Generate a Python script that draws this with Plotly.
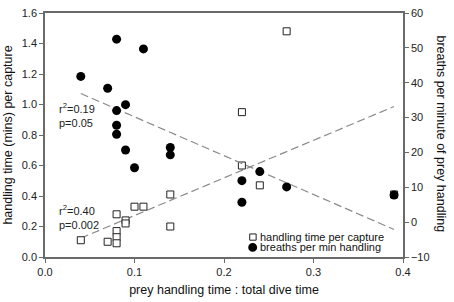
import plotly.graph_objects as go

# handling time per capture (left axis)
cap_x = [0.04, 0.07, 0.08, 0.08, 0.08, 0.08, 0.09, 0.09, 0.10, 0.11, 0.14, 0.14, 0.22, 0.22, 0.24, 0.27, 0.39]
cap_y = [0.11, 0.10, 0.28, 0.17, 0.13, 0.09, 0.24, 0.22, 0.33, 0.33, 0.41, 0.20, 0.95, 0.60, 0.47, 1.48, 0.41]

# breaths per min handling (right axis)
br_x = [0.04, 0.07, 0.08, 0.08, 0.08, 0.08, 0.09, 0.09, 0.10, 0.11, 0.14, 0.14, 0.22, 0.22, 0.24, 0.27, 0.39]
br_y = [41.8, 38.4, 52.5, 32.0, 27.8, 25.2, 33.7, 20.7, 15.6, 49.7, 21.4, 19.3, 11.9, 5.7, 14.5, 10.1, 7.8]

# regression lines
fit_x = [0.04, 0.39]
cap_fit = [0.124, 0.987]
br_fit = [36.9, -2.1]

series_names = ["handling time per capture", "breaths per min handling"]

FONT = "Liberation Sans, Arial, sans-serif"
AX = "#6a6a6a"
DASH = "#8a8a8a"

W, H = 454, 302
L, R, T, B = 41, 51, 7, 41
PW, PH = W - L - R, H - T - B

def px_x(px):
    return (px - L) / PW

def px_y(py):
    return (H - B - py) / PH

fig = go.Figure()
fig.add_trace(go.Scatter(x=fit_x, y=cap_fit, mode="lines", showlegend=False,
                         line=dict(color=DASH, width=1.2, dash="8px,4px"), hoverinfo="skip"))
fig.add_trace(go.Scatter(x=fit_x, y=br_fit, mode="lines", showlegend=False, yaxis="y2",
                         line=dict(color=DASH, width=1.2, dash="8px,4px"), hoverinfo="skip"))
fig.add_trace(go.Scatter(x=cap_x, y=cap_y, mode="markers", name=series_names[0], showlegend=False,
                         marker=dict(symbol="square", size=7, color="white",
                                     line=dict(color="#222", width=1))))
fig.add_trace(go.Scatter(x=br_x, y=br_y, mode="markers", name=series_names[1], yaxis="y2", showlegend=False,
                         marker=dict(symbol="circle", size=9, color="black",
                                     line=dict(color="black", width=0))))

# hand-made compact legend (marker swatches + labels)
shapes = [
    dict(type="rect", xref="paper", yref="paper",
         x0=px_x(248), x1=px_x(254.5), y0=px_y(243.5), y1=px_y(237),
         fillcolor="white", line=dict(color="#222", width=1)),
    dict(type="circle", xref="paper", yref="paper",
         x0=px_x(246.5), x1=px_x(255.5), y0=px_y(255.5), y1=px_y(246.5),
         fillcolor="black", line=dict(color="black", width=0)),
]

fig.update_layout(
    width=W, height=H,
    margin=dict(l=L, r=R, t=T, b=B),
    plot_bgcolor="white", paper_bgcolor="white",
    font=dict(family=FONT, size=11, color="#222"),
    showlegend=False,
    shapes=shapes,
    xaxis=dict(range=[0, 0.4], dtick=0.1, tickformat=".1f", ticks="outside", ticklen=4,
               tickcolor=AX, showline=True, linecolor=AX, linewidth=1.5, mirror=True,
               showgrid=False, zeroline=False,
               title=dict(text="prey handling time : total dive time", font=dict(size=12.5, color="#111"), standoff=8)),
    yaxis=dict(range=[0, 1.6], dtick=0.2, tickformat=".1f", ticks="outside", ticklen=4,
               tickcolor=AX, showline=True, linecolor=AX, linewidth=1.5,
               showgrid=False, zeroline=False,
               title=dict(text="handling time (mins) per capture", font=dict(size=12.5, color="#111"), standoff=6)),
    yaxis2=dict(range=[-10, 60], dtick=10, ticks="outside", ticklen=4, overlaying="y", side="right",
                tickcolor=AX, showline=True, linecolor=AX, linewidth=1.5,
                showgrid=False, zeroline=False),
    annotations=[
        dict(text="r<sup>2</sup>=0.19<br>p=0.05", x=px_x(53), y=px_y(113), xref="paper", yref="paper",
             xanchor="left", yanchor="middle", align="left", showarrow=False, font=dict(size=11)),
        dict(text="r<sup>2</sup>=0.40<br>p=0.002", x=px_x(53), y=px_y(219), xref="paper", yref="paper",
             xanchor="left", yanchor="middle", align="left", showarrow=False, font=dict(size=11)),
        dict(text=series_names[0], x=px_x(256), y=px_y(240), xref="paper", yref="paper",
             xanchor="left", yanchor="middle", showarrow=False, font=dict(size=11, color="#111")),
        dict(text=series_names[1], x=px_x(256), y=px_y(251), xref="paper", yref="paper",
             xanchor="left", yanchor="middle", showarrow=False, font=dict(size=11, color="#111")),
        dict(text="breaths per minute of prey handling", x=px_x(441), y=px_y(133),
             xref="paper", yref="paper", xanchor="center", yanchor="middle",
             showarrow=False, textangle=90, font=dict(size=12.5, color="#111")),
    ],
)

fig.write_html("out.html", config={"displayModeBar": False},
               post_script="document.body.style.margin='0';document.body.style.padding='0';")
